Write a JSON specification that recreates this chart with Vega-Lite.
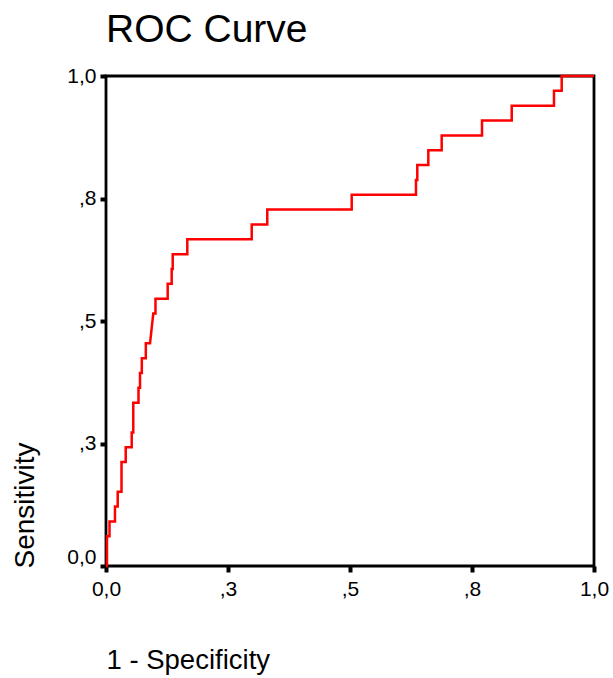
{
  "$schema": "https://vega.github.io/schema/vega-lite/v6.json",
  "autosize": "none",
  "padding": {"left": 106, "top": 76, "right": 19, "bottom": 112},
  "width": 488,
  "height": 490,
  "background": "white",
  "config": {
    "view": {"stroke": "black", "strokeWidth": 2.8},
    "font": "Liberation Sans"
  },
  "title": {
    "text": "ROC Curve",
    "anchor": "start",
    "frame": "group",
    "font": "Liberation Sans",
    "fontSize": 39,
    "fontWeight": "normal",
    "color": "black",
    "offset": 15
  },
  "data": {
    "values": [
      {"fpr": 0, "tpr": 0},
      {"fpr": 0.002, "tpr": 0},
      {"fpr": 0.002, "tpr": 0.0606},
      {"fpr": 0.0072, "tpr": 0.0606},
      {"fpr": 0.0072, "tpr": 0.0909},
      {"fpr": 0.0184, "tpr": 0.0909},
      {"fpr": 0.0184, "tpr": 0.1212},
      {"fpr": 0.024, "tpr": 0.1212},
      {"fpr": 0.024, "tpr": 0.1515},
      {"fpr": 0.0318, "tpr": 0.1515},
      {"fpr": 0.0318, "tpr": 0.2121},
      {"fpr": 0.0404, "tpr": 0.2121},
      {"fpr": 0.0404, "tpr": 0.2424},
      {"fpr": 0.0527, "tpr": 0.2424},
      {"fpr": 0.0527, "tpr": 0.2727},
      {"fpr": 0.0559, "tpr": 0.2727},
      {"fpr": 0.0559, "tpr": 0.3333},
      {"fpr": 0.0666, "tpr": 0.3333},
      {"fpr": 0.0666, "tpr": 0.3636},
      {"fpr": 0.0697, "tpr": 0.3636},
      {"fpr": 0.0697, "tpr": 0.3939},
      {"fpr": 0.0734, "tpr": 0.3939},
      {"fpr": 0.0734, "tpr": 0.4242},
      {"fpr": 0.0816, "tpr": 0.4242},
      {"fpr": 0.0816, "tpr": 0.4545},
      {"fpr": 0.0902, "tpr": 0.4545},
      {"fpr": 0.0969, "tpr": 0.5152},
      {"fpr": 0.1014, "tpr": 0.5152},
      {"fpr": 0.1014, "tpr": 0.5455},
      {"fpr": 0.1264, "tpr": 0.5455},
      {"fpr": 0.1264, "tpr": 0.5758},
      {"fpr": 0.1346, "tpr": 0.5758},
      {"fpr": 0.1346, "tpr": 0.6061},
      {"fpr": 0.1367, "tpr": 0.6061},
      {"fpr": 0.1367, "tpr": 0.6364},
      {"fpr": 0.1666, "tpr": 0.6364},
      {"fpr": 0.1666, "tpr": 0.6667},
      {"fpr": 0.2986, "tpr": 0.6667},
      {"fpr": 0.2986, "tpr": 0.697},
      {"fpr": 0.3305, "tpr": 0.697},
      {"fpr": 0.3305, "tpr": 0.7273},
      {"fpr": 0.5035, "tpr": 0.7273},
      {"fpr": 0.5035, "tpr": 0.7576},
      {"fpr": 0.6352, "tpr": 0.7576},
      {"fpr": 0.6352, "tpr": 0.7879},
      {"fpr": 0.6379, "tpr": 0.7879},
      {"fpr": 0.6379, "tpr": 0.8182},
      {"fpr": 0.6605, "tpr": 0.8182},
      {"fpr": 0.6605, "tpr": 0.8485},
      {"fpr": 0.6879, "tpr": 0.8485},
      {"fpr": 0.6879, "tpr": 0.8788},
      {"fpr": 0.7705, "tpr": 0.8788},
      {"fpr": 0.7705, "tpr": 0.9091},
      {"fpr": 0.8314, "tpr": 0.9091},
      {"fpr": 0.8314, "tpr": 0.9394},
      {"fpr": 0.918, "tpr": 0.9394},
      {"fpr": 0.918, "tpr": 0.9697},
      {"fpr": 0.9338, "tpr": 0.9697},
      {"fpr": 0.9338, "tpr": 1},
      {"fpr": 1, "tpr": 1}
    ]
  },
  "mark": {"type": "line", "color": "#ff0000", "strokeWidth": 2.5, "interpolate": "linear"},
  "encoding": {
    "x": {
      "field": "fpr",
      "type": "quantitative",
      "scale": {"domain": [0, 1], "nice": false, "zero": true},
      "axis": {
        "values": [0, 0.25, 0.5, 0.75, 1],
        "labelExpr": "datum.value == 0 ? '0,0' : datum.value == 0.25 ? ',3' : datum.value == 0.5 ? ',5' : datum.value == 0.75 ? ',8' : '1,0'",
        "grid": false,
        "domain": false,
        "ticks": true,
        "tickColor": "black",
        "tickSize": 6,
        "tickWidth": 4,
        "labelFlush": false,
        "labelFont": "Liberation Sans",
        "labelFontSize": 21,
        "labelColor": "black",
        "labelPadding": 6,
        "title": "1 - Specificity",
        "titleFont": "Liberation Sans",
        "titleFontSize": 27.5,
        "titleFontWeight": "normal",
        "titleColor": "black",
        "titleAnchor": "start",
        "titleAlign": "left",
        "titleBaseline": "middle",
        "titleX": 0,
        "titleY": 94
      }
    },
    "y": {
      "field": "tpr",
      "type": "quantitative",
      "scale": {"domain": [0, 1], "nice": false, "zero": true},
      "axis": {
        "values": [0, 0.25, 0.5, 0.75, 1],
        "labelExpr": "datum.value == 0 ? '0,0' : datum.value == 0.25 ? ',3' : datum.value == 0.5 ? ',5' : datum.value == 0.75 ? ',8' : '1,0'",
        "grid": false,
        "domain": false,
        "ticks": true,
        "tickColor": "black",
        "tickSize": 6,
        "tickWidth": 4,
        "labelFlush": false,
        "labelOffset": {"condition": {"test": "datum.value == 0", "value": -9}, "value": 0},
        "labelFont": "Liberation Sans",
        "labelFontSize": 21,
        "labelColor": "black",
        "labelPadding": 4,
        "title": "Sensitivity",
        "titleFont": "Liberation Sans",
        "titleFontSize": 28,
        "titleFontWeight": "normal",
        "titleColor": "black",
        "titleAngle": 270,
        "titleAlign": "left",
        "titleBaseline": "middle",
        "titleX": -81,
        "titleY": 492
      }
    },
    "order": {"value": null}
  }
}
